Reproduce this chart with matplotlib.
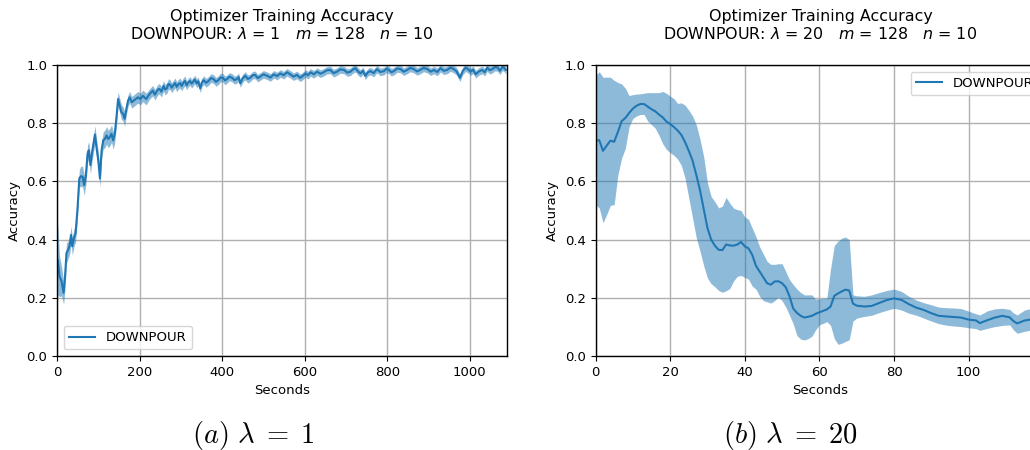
import matplotlib
matplotlib.use("Agg")
import matplotlib.pyplot as plt
import numpy as np

plt.rcParams['font.family'] = ['DejaVu Sans']
plt.rcParams['font.size'] = 9.5
plt.rcParams['mathtext.fontset'] = 'dejavusans'

# ---- Panel (a): lambda = 1 ----
t_a = [0, 2, 6, 11, 16, 19, 23, 27, 31, 34,
       37, 41, 45, 50, 54, 58, 62, 66, 70, 74,
       77, 81, 85, 89, 92, 95, 100, 104, 108, 112,
       116, 120, 124, 128, 132, 136, 140, 144, 148, 152,
       156, 160, 164, 168, 172, 176, 181, 188, 196, 202,
       208, 216, 224,
       232, 237, 240, 244, 248, 253, 258, 262, 266, 270,
       274, 278, 282, 286, 290, 294, 298, 302, 306, 310,
       314, 318, 322, 326, 330, 334, 338, 342, 347, 351,
       355, 361, 367, 373, 379, 385, 391, 396, 402, 407,
       412, 418, 424, 430, 436, 440, 444, 450, 456, 462,
       468, 474, 480, 486, 492, 500, 509, 517, 525, 533,
       541, 549, 557, 565, 573, 581, 589, 595, 602, 608,
       614, 622, 630, 638, 646, 654, 662, 670, 678, 686,
       695, 703, 711, 717, 723, 729, 735, 741, 747, 753,
       759, 767, 775, 783, 792, 798, 804, 810, 816, 824,
       832, 840, 848, 856, 864, 872, 880, 888, 897, 905,
       913, 921, 929, 937, 945, 953, 961, 968, 976, 983,
       990, 996, 1002, 1008, 1014, 1022, 1030, 1036, 1042, 1048,
       1055, 1061, 1067, 1073, 1079, 1083, 1087]
acc_a = [0.30, 0.33, 0.274, 0.257, 0.217, 0.263, 0.354, 0.365, 0.382, 0.416,
         0.377, 0.405, 0.422, 0.513, 0.61, 0.618, 0.616, 0.587, 0.621, 0.695,
         0.707, 0.656, 0.701, 0.735, 0.761, 0.724, 0.672, 0.61, 0.707, 0.741,
         0.746, 0.758, 0.746, 0.752, 0.764, 0.741, 0.764, 0.82, 0.883, 0.86,
         0.838, 0.832, 0.815, 0.849, 0.877, 0.889, 0.872, 0.88, 0.889, 0.883,
         0.894, 0.883, 0.90,
         0.912, 0.898, 0.905, 0.915, 0.918, 0.908, 0.928, 0.916, 0.92, 0.935,
         0.932, 0.922, 0.931, 0.938, 0.925, 0.934, 0.938, 0.928, 0.939, 0.945,
         0.93, 0.94, 0.945, 0.936, 0.943, 0.95, 0.937, 0.944, 0.92, 0.94,
         0.948, 0.939, 0.945, 0.955, 0.952, 0.942, 0.948, 0.957, 0.956, 0.947,
         0.952, 0.96, 0.956, 0.948, 0.952, 0.958, 0.937, 0.955, 0.963, 0.952,
         0.956, 0.965, 0.966, 0.955, 0.96, 0.968, 0.963, 0.957, 0.968, 0.962,
         0.971, 0.965, 0.975, 0.968, 0.96, 0.966, 0.956, 0.962, 0.971, 0.965,
         0.975, 0.968, 0.977, 0.97, 0.975, 0.982, 0.983, 0.972, 0.977, 0.985,
         0.983, 0.974, 0.977, 0.985, 0.989, 0.978, 0.971, 0.98, 0.963, 0.975,
         0.979, 0.972, 0.986, 0.976, 0.979, 0.987, 0.983, 0.975, 0.979, 0.988,
         0.986, 0.977, 0.983, 0.99, 0.986, 0.978, 0.983, 0.99, 0.986, 0.977,
         0.983, 0.976, 0.989, 0.98, 0.983, 0.991, 0.986, 0.978, 0.956, 0.98,
         0.991, 0.985, 0.977, 0.984, 0.968, 0.978, 0.983, 0.975, 0.991, 0.982,
         0.986, 0.993, 0.991, 0.98, 0.994, 0.99, 0.983]
std_a = [0.15, 0.12, 0.07, 0.05, 0.04, 0.04, 0.035, 0.03, 0.03, 0.03,
         0.03, 0.03, 0.03, 0.03, 0.03, 0.035, 0.035, 0.035, 0.03, 0.03,
         0.03, 0.03, 0.03, 0.03, 0.03, 0.03, 0.03, 0.03, 0.03, 0.03,
         0.03, 0.03, 0.03, 0.03, 0.03, 0.03, 0.03, 0.03, 0.025, 0.025,
         0.025, 0.025, 0.025, 0.02, 0.02, 0.02, 0.02, 0.02, 0.02, 0.02,
         0.02, 0.02, 0.018,
         0.018, 0.018, 0.018, 0.018, 0.018, 0.018, 0.018, 0.018, 0.018, 0.018,
         0.017, 0.017, 0.017, 0.017, 0.017, 0.017, 0.017, 0.017, 0.017, 0.017,
         0.015, 0.015, 0.015, 0.015, 0.015, 0.015, 0.015, 0.015, 0.015, 0.015,
         0.015, 0.015, 0.015, 0.015, 0.015, 0.015, 0.015, 0.015, 0.015, 0.015,
         0.014, 0.014, 0.014, 0.014, 0.014, 0.014, 0.014, 0.014, 0.014, 0.014,
         0.013, 0.013, 0.013, 0.013, 0.013, 0.013, 0.013, 0.013, 0.013, 0.013,
         0.013, 0.013, 0.013, 0.013, 0.013, 0.013, 0.013, 0.013, 0.013, 0.013,
         0.013, 0.013, 0.013, 0.013, 0.013, 0.013, 0.013, 0.013, 0.013, 0.013,
         0.013, 0.013, 0.013, 0.013, 0.013, 0.013, 0.013, 0.013, 0.013, 0.013,
         0.013, 0.013, 0.013, 0.013, 0.013, 0.013, 0.013, 0.013, 0.013, 0.013,
         0.013, 0.013, 0.013, 0.013, 0.013, 0.013, 0.013, 0.013, 0.013, 0.013,
         0.013, 0.013, 0.013, 0.013, 0.013, 0.013, 0.013, 0.013, 0.013, 0.013,
         0.013, 0.013, 0.013, 0.013, 0.013, 0.013, 0.013, 0.013, 0.013, 0.013,
         0.013, 0.013, 0.013, 0.013, 0.013, 0.013, 0.013]

# ---- Panel (b): lambda = 20 ----
t_b = [0, 1, 2, 3, 4, 5, 6, 7, 8, 9, 10, 11, 12, 13, 14, 15, 16, 17, 18, 19, 20, 21, 22,
       23, 24, 25, 26, 27, 28, 29, 30, 31, 32, 33, 34, 35, 36, 37, 38, 39, 40, 41, 42, 43,
       44, 45, 46, 47, 48, 49, 50, 51, 52, 53, 54, 55, 56, 57, 58, 59, 60, 61, 62, 63, 64,
       65, 66, 67, 68, 69, 70, 72, 74, 76, 78, 80, 82, 84, 86, 88, 90, 92, 94, 96, 98, 100,
       102, 103, 105, 107, 109, 111, 112, 113, 115, 117, 120]
acc_b = [0.739, 0.742, 0.705, 0.723, 0.740, 0.736, 0.770, 0.807, 0.818, 0.835, 0.850, 0.860,
         0.866, 0.866, 0.857, 0.848, 0.841, 0.830, 0.820, 0.806, 0.797, 0.787, 0.775, 0.760,
         0.735, 0.705, 0.672, 0.623, 0.57, 0.505, 0.44, 0.40, 0.379, 0.365, 0.364, 0.383,
         0.380, 0.379, 0.383, 0.392, 0.377, 0.370, 0.348, 0.31, 0.29, 0.27, 0.250, 0.245,
         0.256, 0.257, 0.250, 0.236, 0.205, 0.163, 0.148, 0.138, 0.132, 0.135, 0.138, 0.145,
         0.150, 0.155, 0.160, 0.170, 0.207, 0.215, 0.222, 0.228, 0.225, 0.180, 0.173, 0.170,
         0.172, 0.182, 0.192, 0.198, 0.193, 0.178, 0.166, 0.158, 0.147, 0.138, 0.136, 0.134,
         0.132, 0.125, 0.122, 0.113, 0.123, 0.132, 0.138, 0.133, 0.120, 0.112, 0.122, 0.126,
         0.128]
lo_b = [0.52, 0.509, 0.458, 0.486, 0.518, 0.52, 0.623, 0.68, 0.714, 0.788, 0.816, 0.825,
        0.83, 0.83, 0.807, 0.795, 0.783, 0.759, 0.73, 0.71, 0.699, 0.69, 0.677, 0.655,
        0.611, 0.543, 0.475, 0.407, 0.361, 0.31, 0.268, 0.248, 0.238, 0.225, 0.219, 0.224,
        0.232, 0.258, 0.274, 0.277, 0.27, 0.264, 0.24, 0.23, 0.205, 0.19, 0.186, 0.182,
        0.19, 0.202, 0.19, 0.168, 0.14, 0.11, 0.07, 0.058, 0.055, 0.06, 0.068, 0.09,
        0.107, 0.112, 0.118, 0.105, 0.06, 0.04, 0.044, 0.05, 0.056, 0.12, 0.13, 0.136,
        0.14, 0.149, 0.157, 0.164, 0.158, 0.147, 0.14, 0.13, 0.12, 0.111, 0.106, 0.103,
        0.101, 0.097, 0.094, 0.088, 0.095, 0.101, 0.105, 0.107, 0.09, 0.078, 0.085, 0.09,
        0.092]
hi_b = [0.964, 0.977, 0.958, 0.958, 0.958, 0.947, 0.94, 0.935, 0.92, 0.895, 0.898, 0.900,
        0.901, 0.903, 0.905, 0.905, 0.905, 0.905, 0.909, 0.903, 0.893, 0.885, 0.868, 0.870,
        0.862, 0.845, 0.825, 0.795, 0.745, 0.685, 0.595, 0.548, 0.53, 0.509, 0.515, 0.545,
        0.525, 0.508, 0.503, 0.500, 0.478, 0.470, 0.44, 0.41, 0.375, 0.35, 0.325, 0.315,
        0.315, 0.317, 0.317, 0.29, 0.262, 0.245, 0.23, 0.218, 0.21, 0.21, 0.21, 0.195,
        0.197, 0.198, 0.199, 0.30, 0.38, 0.395, 0.405, 0.409, 0.40, 0.21, 0.207, 0.205,
        0.21, 0.218, 0.225, 0.23, 0.222, 0.205, 0.192, 0.183, 0.176, 0.168, 0.166, 0.165,
        0.163, 0.154, 0.145, 0.141, 0.155, 0.162, 0.164, 0.16, 0.148, 0.141, 0.158, 0.164,
        0.165]

yticks = [0.0, 0.2, 0.4, 0.6, 0.8, 1.0]
label = "DOWNPOUR"
color = "#1f77b4"

W, H = 1030, 450
fig = plt.figure(figsize=(W / 100, H / 100), dpi=100)

def px_axes(x0, y_top, w, h):
    return fig.add_axes([x0 / W, 1 - (y_top + h) / H, w / W, h / H])

ax1 = px_axes(57, 65, 450, 291)
ax2 = px_axes(595.5, 65, 450, 291)

def style(ax, title, xlim, xticks):
    ax.set_xlim(*xlim)
    ax.set_ylim(0, 1)
    ax.set_xticks(xticks)
    ax.set_yticks(yticks)
    ax.grid(True, color="#b0b0b0", linewidth=1.0)
    ax.set_axisbelow(True)
    ax.set_xlabel("Seconds")
    ax.set_ylabel("Accuracy")
    ax.set_title(title, pad=19, fontsize=11.4, linespacing=1.15)
    for s in ax.spines.values():
        s.set_color("black")
        s.set_linewidth(1.0)

a = np.array(acc_a); sa = np.array(std_a)
ax1.fill_between(t_a, a - sa, a + sa, color=color, alpha=0.5, linewidth=0)
ax1.plot(t_a, acc_a, color=color, linewidth=1.5, label=label)
style(ax1, "Optimizer Training Accuracy\nDOWNPOUR: $\\lambda$ = 1   $m$ = 128   $n$ = 10",
      (0, 1090), [0, 200, 400, 600, 800, 1000])
ax1.legend(loc="lower left")

ax2.fill_between(t_b, lo_b, hi_b, color=color, alpha=0.5, linewidth=0)
ax2.plot(t_b, acc_b, color=color, linewidth=1.5, label=label)
style(ax2, "Optimizer Training Accuracy\nDOWNPOUR: $\\lambda$ = 20   $m$ = 128   $n$ = 10",
      (0, 120.6), [0, 20, 40, 60, 80, 100])
ax2.legend(loc="upper right")

fig.text(253 / W, 1 - 435 / H, r"$(a)\ \lambda\;=\;1$", ha="center", va="center",
         fontsize=20.5, math_fontfamily="cm")
fig.text(790 / W, 1 - 435 / H, r"$(b)\ \lambda\;=\;20$", ha="center", va="center",
         fontsize=20.5, math_fontfamily="cm")

fig.savefig("out.png", dpi=100)
